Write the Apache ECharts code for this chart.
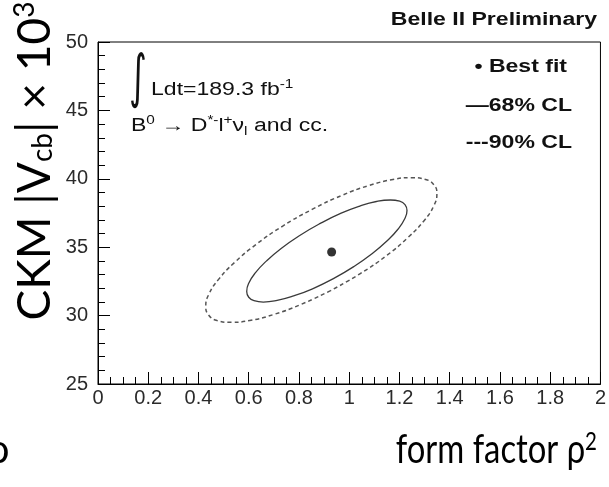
<!DOCTYPE html>
<html>
<head>
<meta charset="utf-8">
<script src="https://cdn.jsdelivr.net/npm/echarts@6/dist/echarts.min.js"></script>
<style>
  html, body { margin: 0; padding: 0; background: #fff; }
  #chart { width: 609px; height: 487px; }
</style>
</head>
<body>
<div id="chart"></div>
<script>
// axis ranges (form factor rho^2 vs |Vcb| x 10^3)
const xRange = [0, 2, 0.2];
const yRange = [25, 50, 5];

// best fit point
const bestFit = [[0.93, 34.65]];

// 68% CL contour (closed loop, includes the left/right/top/bottom tips)
const cl68X = [0.937, 0.854, 0.779, 0.713, 0.658, 0.621, 0.600, 0.592, 0.600, 0.627, 0.671, 0.729, 0.803,
               0.885, 0.968, 1.042, 1.108, 1.164, 1.201, 1.222, 1.230, 1.221, 1.194, 1.150, 1.092, 1.018, 0.937];
const cl68Y = [32.70, 31.96, 31.44, 31.11, 30.99, 31.09, 31.34, 31.77, 32.37, 33.14, 34.00, 34.91, 35.86,
               36.74, 37.49, 38.01, 38.34, 38.45, 38.36, 38.11, 37.68, 37.08, 36.31, 35.45, 34.54, 33.58, 32.70];

// 90% CL contour
const cl90X = [0.926, 0.806, 0.699, 0.604, 0.530, 0.474, 0.440, 0.429, 0.441, 0.480, 0.544, 0.627, 0.734,
               0.852, 0.971, 1.079, 1.174, 1.248, 1.304, 1.338, 1.349, 1.337, 1.298, 1.234, 1.151, 1.044, 0.926];
const cl90Y = [31.83, 30.80, 30.08, 29.64, 29.51, 29.64, 30.05, 30.67, 31.55, 32.65, 33.89, 35.17, 36.53,
               37.76, 38.79, 39.51, 39.95, 40.08, 39.95, 39.54, 38.92, 38.04, 36.94, 35.71, 34.42, 33.07, 31.83];

const zip = (xs, ys) => xs.map((x, i) => [x, ys[i]]);

const chart = echarts.init(document.getElementById('chart'));

const tickFont = {
    fontFamily: 'Liberation Sans',
    fontSize: 20,
    color: '#2a2a2a'
};

const bigFont = 'Lato';
const wide = 1.28; // the plot text in the picture is stretched sideways

chart.setOption({
    animation: false,
    grid: {
        left: 98,
        top: 42,
        width: 504,
        height: 342,
        show: true,
        borderColor: '#000',
        borderWidth: 1
    },
    xAxis: {
        type: 'value',
        min: xRange[0],
        max: xRange[1],
        interval: xRange[2],
        axisLine: { onZero: false, lineStyle: { color: '#000', width: 1 } },
        axisTick: { inside: true, length: 12, lineStyle: { color: '#000' } },
        minorTick: { show: true, splitNumber: 4, length: 7, lineStyle: { color: '#000' } },
        splitLine: { show: false },
        axisLabel: Object.assign({ margin: 4 }, tickFont)
    },
    yAxis: {
        type: 'value',
        min: yRange[0],
        max: yRange[1],
        interval: yRange[2],
        axisLine: { onZero: false, lineStyle: { color: '#000', width: 1 } },
        axisTick: { inside: true, length: 12, lineStyle: { color: '#000' } },
        minorTick: { show: true, splitNumber: 5, length: 7, lineStyle: { color: '#000' } },
        splitLine: { show: false },
        axisLabel: Object.assign({ margin: 10 }, tickFont)
    },
    series: [
        {
            name: '90% CL',
            type: 'line',
            data: zip(cl90X, cl90Y),
            smooth: 0.5,
            showSymbol: false,
            lineStyle: { color: '#555', width: 1.5, type: [4, 3] }
        },
        {
            name: '68% CL',
            type: 'line',
            data: zip(cl68X, cl68Y),
            smooth: 0.5,
            showSymbol: false,
            lineStyle: { color: '#3a3a3a', width: 1.3 }
        },
        {
            name: 'Best fit',
            type: 'scatter',
            data: bestFit,
            symbolSize: 9,
            itemStyle: { color: '#000' }
        }
    ],
    graphic: [
        {
            type: 'text', x: 597, y: 20, scaleX: wide,
            style: { text: 'Belle II Preliminary', font: 'bold 18px Liberation Sans', fill: '#111',
                     align: 'right', verticalAlign: 'middle' }
        },
        // integrated luminosity
        {
            type: 'text', x: 129, y: 52, scaleX: 0.85, scaleY: 1.45,
            style: { text: '\u222B', font: '40px DejaVu Sans', fill: '#111', verticalAlign: 'top' }
        },
        {
            type: 'text', x: 151, y: 90, scaleX: wide,
            style: {
                text: '{n|Ldt=189.3 fb}{s|-1}',
                verticalAlign: 'middle',
                rich: {
                    n: { font: '18px Liberation Sans', fill: '#111' },
                    s: { font: '12px Liberation Sans', fill: '#111', padding: [0, 0, 11, 0] }
                }
            }
        },
        {
            type: 'text', x: 131, y: 126, scaleX: wide,
            style: {
                text: '{n|B}{s|0}{n| \u2192 D}{s|*-}{n|l}{s|+}{n|\u03BD}{u|l}{n| and cc.}',
                verticalAlign: 'middle',
                rich: {
                    n: { font: '18px Liberation Sans', fill: '#111' },
                    s: { font: '12px Liberation Sans', fill: '#111', padding: [0, 0, 11, 0] },
                    u: { font: '12px Liberation Sans', fill: '#111', padding: [11, 0, 0, 0] }
                }
            }
        },
        // legend
        {
            type: 'text', x: 567, y: 67, scaleX: wide,
            style: { text: '\u2022 Best fit', font: 'bold 18px Liberation Sans', fill: '#111',
                     align: 'right', verticalAlign: 'middle' }
        },
        {
            type: 'text', x: 572, y: 106, scaleX: wide,
            style: { text: '\u201468% CL', font: 'bold 18px Liberation Sans', fill: '#111',
                     align: 'right', verticalAlign: 'middle' }
        },
        {
            type: 'text', x: 572, y: 143, scaleX: wide,
            style: { text: '---90% CL', font: 'bold 18px Liberation Sans', fill: '#111',
                     align: 'right', verticalAlign: 'middle' }
        },
        // axis titles
        {
            type: 'text', x: 35, y: 161, rotation: Math.PI / 2,
            style: {
                text: '{n|CKM |V}{u|cb}{n|| \u00D7 10}{s|3}',
                align: 'center', verticalAlign: 'middle',
                rich: {
                    n: { font: '46px ' + bigFont, fill: '#000' },
                    u: { font: '28px ' + bigFont, fill: '#000', padding: [16, 0, 0, 0] },
                    s: { font: '28px ' + bigFont, fill: '#000', padding: [0, 0, 20, 0] }
                }
            }
        },
        {
            type: 'text', x: 597, y: 450, scaleX: 0.82,
            style: {
                text: '{n|form factor \u03C1}{s|2}',
                align: 'right', verticalAlign: 'middle',
                rich: {
                    n: { font: '40px ' + bigFont, fill: '#000' },
                    s: { font: '25px ' + bigFont, fill: '#000', padding: [0, 0, 16, 0] }
                }
            }
        },
        {
            type: 'text', x: -13, y: 450,
            style: { text: '\u03C1', font: '40px ' + bigFont, fill: '#000', verticalAlign: 'middle' }
        }
    ]
});
</script>
</body>
</html>
